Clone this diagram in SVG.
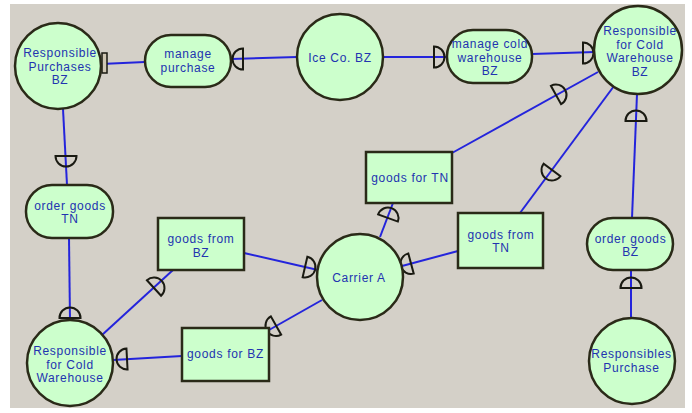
<svg xmlns="http://www.w3.org/2000/svg" xmlns:xlink="http://www.w3.org/1999/xlink" width="692" height="413" viewBox="0 0 692 413">
<defs>
<style>
.bg{fill:#d4d0c8}
.nd{fill:#ccffcc;stroke:#2a2a18;stroke-width:2.5}
.ln{stroke:#2424dc;stroke-width:2;fill:none}
.dp{fill:none;stroke:#1a1a12;stroke-width:2}
text{font-family:"Liberation Sans",Arial,sans-serif;font-size:12px;letter-spacing:0.7px;fill:#2233b0;text-anchor:middle}
</style>
<path id="dep" d="M0,-10.5 A10.5,10.5 0 0 1 0,10.5 Z"/>
</defs>
<rect width="692" height="413" fill="#ffffff"/>
<rect class="bg" x="10" y="4" width="675" height="404"/>
<g id="connectors">
<line class="ln" x1="101" y1="64" x2="145" y2="62"/>
<line class="ln" x1="231" y1="59" x2="297" y2="57"/>
<line class="ln" x1="383" y1="57" x2="447" y2="57"/>
<line class="ln" x1="532" y1="54" x2="595" y2="52"/>
<line class="ln" x1="63" y1="109" x2="67" y2="185"/>
<line class="ln" x1="69" y1="238" x2="70" y2="320"/>
<line class="ln" x1="102" y1="335" x2="173" y2="270"/>
<line class="ln" x1="244" y1="253" x2="318" y2="270"/>
<line class="ln" x1="380" y1="237" x2="393" y2="203"/>
<line class="ln" x1="452" y1="153" x2="598" y2="72"/>
<line class="ln" x1="614" y1="86" x2="520" y2="213"/>
<line class="ln" x1="458" y1="251" x2="402" y2="266"/>
<line class="ln" x1="322" y1="300" x2="269" y2="330"/>
<line class="ln" x1="182" y1="356" x2="113" y2="360"/>
<line class="ln" x1="637" y1="94" x2="632" y2="218"/>
<line class="ln" x1="631" y1="270" x2="631" y2="318"/>
<rect x="102" y="53" width="5" height="20" fill="#cfc7b4" stroke="#1a1a12" stroke-width="1.5"/>
<use href="#dep" class="dp" transform="translate(243,59) rotate(180)"/>
<use href="#dep" class="dp" transform="translate(434,57)"/>
<use href="#dep" class="dp" transform="translate(583,53)"/>
<use href="#dep" class="dp" transform="translate(66,156) rotate(90)"/>
<use href="#dep" class="dp" transform="translate(70,318) rotate(-90)"/>
<use href="#dep" class="dp" transform="translate(154,288) rotate(-42.5)"/>
<use href="#dep" class="dp" transform="translate(305,267) rotate(13)"/>
<use href="#dep" class="dp" transform="translate(388,218) rotate(-70)"/>
<use href="#dep" class="dp" transform="translate(556,95) rotate(-29)"/>
<use href="#dep" class="dp" transform="translate(552,170) rotate(126.5)"/>
<use href="#dep" class="dp" transform="translate(411,263.5) rotate(165)"/>
<use href="#dep" class="dp" transform="translate(276,325.5) rotate(150.5)"/>
<use href="#dep" class="dp" transform="translate(127,359) rotate(177)"/>
<use href="#dep" class="dp" transform="translate(636,121) rotate(-90)"/>
<use href="#dep" class="dp" transform="translate(631,288) rotate(-90)"/>
</g>
<g id="resp-purchases-bz">
<circle class="nd" cx="58" cy="66" r="43"/>
<text x="60" y="57">Responsible</text>
<text x="60" y="70.5">Purchases</text>
<text x="60" y="84">BZ</text>
</g>
<g id="manage-purchase">
<rect class="nd" x="145" y="35" width="86" height="52" rx="26"/>
<text x="188" y="58">manage</text>
<text x="188" y="71.5">purchase</text>
</g>
<g id="ice-co-bz">
<circle class="nd" cx="340" cy="57" r="43"/>
<text x="340" y="62">Ice Co. BZ</text>
</g>
<g id="manage-cold-warehouse-bz">
<rect class="nd" x="447" y="30" width="85" height="53" rx="26"/>
<text x="490" y="48">manage cold</text>
<text x="490" y="61.5">warehouse</text>
<text x="490" y="75">BZ</text>
</g>
<g id="resp-cold-warehouse-bz">
<circle class="nd" cx="638" cy="50" r="44"/>
<text x="640" y="35">Responsible</text>
<text x="640" y="48.5">for Cold</text>
<text x="640" y="62">Warehouse</text>
<text x="640" y="75.5">BZ</text>
</g>
<g id="order-goods-tn">
<rect class="nd" x="26" y="185" width="87" height="53" rx="26"/>
<text x="70" y="209.5">order goods</text>
<text x="70" y="223">TN</text>
</g>
<g id="goods-from-bz">
<rect class="nd" x="158" y="218" width="86" height="52"/>
<text x="201" y="243">goods from</text>
<text x="201" y="256.5">BZ</text>
</g>
<g id="goods-for-tn">
<rect class="nd" x="366" y="152" width="86" height="51"/>
<text x="410" y="182">goods for TN</text>
</g>
<g id="carrier-a">
<circle class="nd" cx="360" cy="277" r="43"/>
<text x="359" y="282">Carrier A</text>
</g>
<g id="goods-from-tn">
<rect class="nd" x="458" y="213" width="85" height="55"/>
<text x="501" y="238.5">goods from</text>
<text x="501" y="252">TN</text>
</g>
<g id="order-goods-bz">
<rect class="nd" x="587" y="218" width="86" height="52" rx="26"/>
<text x="630.5" y="242.5">order goods</text>
<text x="630.5" y="256">BZ</text>
</g>
<g id="responsibles-purchase">
<circle class="nd" cx="632" cy="361" r="43"/>
<text x="631.5" y="358">Responsibles</text>
<text x="631.5" y="371.5">Purchase</text>
</g>
<g id="resp-cold-warehouse">
<circle class="nd" cx="70" cy="363" r="43"/>
<text x="70" y="355">Responsible</text>
<text x="70" y="368.5">for Cold</text>
<text x="70" y="382">Warehouse</text>
</g>
<g id="goods-for-bz">
<rect class="nd" x="182" y="328" width="87" height="53"/>
<text x="225.5" y="358">goods for BZ</text>
</g>
</svg>
